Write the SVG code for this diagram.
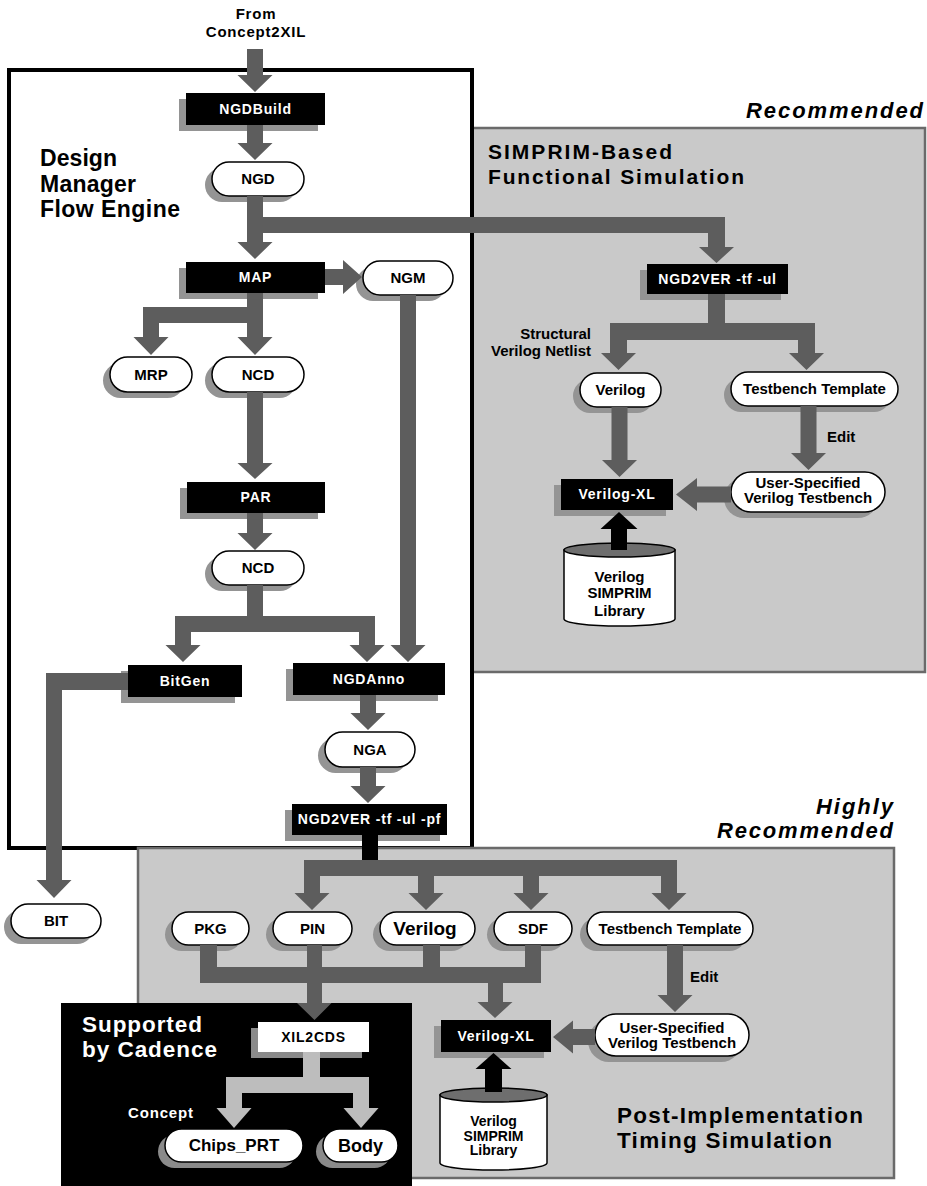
<svg xmlns="http://www.w3.org/2000/svg" width="927" height="1186" viewBox="0 0 927 1186">
  <style>
    .panel { fill: #c9c9c9; stroke: #6a6a6a; stroke-width: 2.5; }
    .frame { fill: #fff; stroke: #000; stroke-width: 4; }
    .shadow { fill: #949494; }
    .box { fill: #000; }
    .wbox { fill: #fff; }
    .pill { fill: #fff; stroke: #000; stroke-width: 1.5; }
    .arrow { fill: #5d5d5d; }
    .arrow-lt { fill: #bdbdbd; }
    .arrow-blk { fill: #000; }
    text { font-family: "Liberation Sans", Arial, Helvetica, sans-serif; font-weight: bold; }
    .bl { fill: #fff; font-size: 14px; letter-spacing: 0.8px; text-anchor: middle; }
    .pl { fill: #000; font-size: 15px; text-anchor: middle; }
    .title { font-size: 22.5px; }
    .rec { font-size: 22px; font-style: italic; text-anchor: end; }
    .note { fill: #000; font-size: 15px; }
    .cyl-body { fill: #fff; stroke: #000; stroke-width: 1.5; }
    .cyl-top { fill: #6e6e6e; stroke: #000; stroke-width: 1.5; }
  </style>

  <!-- background regions -->
  <g id="regions">
    <rect class="panel" x="472" y="128" width="453" height="544"/>
    <rect class="frame" x="9" y="70" width="463" height="778"/>
    <rect class="panel" x="138" y="848" width="756" height="330"/>
    <rect x="61" y="1003" width="351" height="183" fill="#000"/>
  </g>

  <!-- Design Manager flow -->
  <g id="ngdbuild">
    <rect class="shadow" x="179" y="99" width="139" height="32"/>
    <rect class="box" x="186" y="93" width="139" height="32"/>
    <text class="bl" x="255.5" y="114">NGDBuild</text>
  </g>
  <g id="ngd">
    <rect class="shadow" x="205" y="168" width="92" height="34" rx="17"/>
    <rect class="pill" x="212" y="162" width="92" height="34" rx="17"/>
    <text class="pl" x="258" y="184">NGD</text>
  </g>
  <g id="map">
    <rect class="shadow" x="179" y="268" width="139" height="31"/>
    <rect class="box" x="186" y="262" width="139" height="31"/>
    <text class="bl" x="255.5" y="282">MAP</text>
  </g>
  <g id="ngm">
    <rect class="shadow" x="356" y="267" width="90" height="34" rx="17"/>
    <rect class="pill" x="363" y="261" width="90" height="34" rx="17"/>
    <text class="pl" x="408" y="283">NGM</text>
  </g>
  <g id="mrp">
    <rect class="shadow" x="103" y="363" width="82" height="35" rx="17.5"/>
    <rect class="pill" x="110" y="357" width="82" height="35" rx="17.5"/>
    <text class="pl" x="151" y="380">MRP</text>
  </g>
  <g id="ncd-map">
    <rect class="shadow" x="205" y="363" width="92" height="35" rx="17.5"/>
    <rect class="pill" x="212" y="357" width="92" height="35" rx="17.5"/>
    <text class="pl" x="258" y="380">NCD</text>
  </g>
  <g id="par">
    <rect class="shadow" x="180" y="488" width="138" height="31"/>
    <rect class="box" x="187" y="482" width="138" height="31"/>
    <text class="bl" x="256" y="502">PAR</text>
  </g>
  <g id="ncd-par">
    <rect class="shadow" x="205" y="557" width="92" height="34" rx="17"/>
    <rect class="pill" x="212" y="551" width="92" height="34" rx="17"/>
    <text class="pl" x="258" y="573">NCD</text>
  </g>
  <g id="bitgen">
    <rect class="shadow" x="121" y="671" width="114" height="32"/>
    <rect class="box" x="128" y="665" width="114" height="32"/>
    <text class="bl" x="185" y="686">BitGen</text>
  </g>
  <g id="ngdanno">
    <rect class="shadow" x="286" y="669" width="152" height="32"/>
    <rect class="box" x="293" y="663" width="152" height="32"/>
    <text class="bl" x="369" y="684">NGDAnno</text>
  </g>
  <g id="nga">
    <rect class="shadow" x="318" y="738" width="90" height="35" rx="17.5"/>
    <rect class="pill" x="325" y="732" width="90" height="35" rx="17.5"/>
    <text class="pl" x="370" y="755">NGA</text>
  </g>
  <g id="ngd2ver-pf">
    <rect class="shadow" x="285" y="810" width="155" height="31"/>
    <rect class="box" x="292" y="804" width="155" height="31"/>
    <text class="bl" x="369.5" y="824">NGD2VER -tf -ul -pf</text>
  </g>
  <g id="bit">
    <rect class="shadow" x="4" y="910" width="90" height="34" rx="17"/>
    <rect class="pill" x="11" y="904" width="90" height="34" rx="17"/>
    <text class="pl" x="56" y="926">BIT</text>
  </g>

  <!-- functional simulation -->
  <g id="ngd2ver-ul">
    <rect class="shadow" x="640" y="270" width="141" height="30"/>
    <rect class="box" x="647" y="264" width="141" height="30"/>
    <text class="bl" x="717.5" y="284">NGD2VER -tf -ul</text>
  </g>
  <g id="verilog-f">
    <rect class="shadow" x="573" y="379" width="81" height="34" rx="17"/>
    <rect class="pill" x="580" y="373" width="81" height="34" rx="17"/>
    <text class="pl" x="620.5" y="395">Verilog</text>
  </g>
  <g id="testbench-f">
    <rect class="shadow" x="724" y="378" width="167" height="34" rx="17"/>
    <rect class="pill" x="731" y="372" width="167" height="34" rx="17"/>
    <text class="pl" x="814.5" y="394">Testbench Template</text>
  </g>
  <g id="user-tb-f">
    <rect class="shadow" x="724" y="478" width="154" height="40" rx="20"/>
    <rect class="pill" x="731" y="472" width="154" height="40" rx="20"/>
    <text class="pl" x="808" y="488">User-Specified</text>
    <text class="pl" x="808" y="503">Verilog Testbench</text>
  </g>
  <g id="verilogxl-f">
    <rect class="shadow" x="554" y="485" width="112" height="31"/>
    <rect class="box" x="561" y="479" width="112" height="31"/>
    <text class="bl" x="617" y="499">Verilog-XL</text>
  </g>
  <g id="simprim-lib-f">
    <path class="cyl-body" d="M564,550 V619 A55.5,7 0 0 0 675,619 V550 Z"/>
    <ellipse class="cyl-top" cx="619.5" cy="550" rx="55.5" ry="7"/>
    <text class="pl" x="619.5" y="582">Verilog</text>
    <text class="pl" x="619.5" y="598">SIMPRIM</text>
    <text class="pl" x="619.5" y="616">Library</text>
  </g>

  <!-- timing simulation -->
  <g id="pkg">
    <rect class="shadow" x="165" y="918" width="77" height="33" rx="16.5"/>
    <rect class="pill" x="172" y="912" width="77" height="33" rx="16.5"/>
    <text class="pl" x="210.5" y="934">PKG</text>
  </g>
  <g id="pin">
    <rect class="shadow" x="266" y="918" width="79" height="33" rx="16.5"/>
    <rect class="pill" x="273" y="912" width="79" height="33" rx="16.5"/>
    <text class="pl" x="312.5" y="934">PIN</text>
  </g>
  <g id="verilog-t">
    <rect class="shadow" x="373" y="918" width="95" height="33" rx="16.5"/>
    <rect class="pill" x="380" y="912" width="95" height="33" rx="16.5"/>
    <text class="pl" x="425" y="935" style="font-size:19px">Verilog</text>
  </g>
  <g id="sdf">
    <rect class="shadow" x="487" y="918" width="78" height="33" rx="16.5"/>
    <rect class="pill" x="494" y="912" width="78" height="33" rx="16.5"/>
    <text class="pl" x="533" y="934">SDF</text>
  </g>
  <g id="testbench-t">
    <rect class="shadow" x="580" y="918" width="166" height="33" rx="16.5"/>
    <rect class="pill" x="587" y="912" width="166" height="33" rx="16.5"/>
    <text class="pl" x="670" y="934">Testbench Template</text>
  </g>
  <g id="user-tb-t">
    <rect class="shadow" x="588" y="1020" width="154" height="42" rx="21"/>
    <rect class="pill" x="595" y="1014" width="154" height="42" rx="21"/>
    <text class="pl" x="672" y="1033">User-Specified</text>
    <text class="pl" x="672" y="1048">Verilog Testbench</text>
  </g>
  <g id="verilogxl-t">
    <rect class="shadow" x="434" y="1026" width="110" height="32"/>
    <rect class="box" x="441" y="1020" width="110" height="32"/>
    <text class="bl" x="496" y="1041">Verilog-XL</text>
  </g>
  <g id="simprim-lib-t">
    <path class="cyl-body" d="M440,1095 V1163 A53.5,7 0 0 0 547,1163 V1095 Z"/>
    <ellipse class="cyl-top" cx="493.5" cy="1095" rx="53.5" ry="7"/>
    <text class="pl" x="493.5" y="1126" style="font-size:14px">Verilog</text>
    <text class="pl" x="493.5" y="1141" style="font-size:14px">SIMPRIM</text>
    <text class="pl" x="493.5" y="1155" style="font-size:14px">Library</text>
  </g>

  <!-- Cadence back-annotation -->
  <g id="xil2cds">
    <rect fill="#8a8a8a" x="251" y="1028" width="111" height="30"/>
    <rect class="wbox" x="258" y="1022" width="111" height="30"/>
    <text class="pl" x="313.5" y="1042" style="font-size:14px;letter-spacing:0.8px">XIL2CDS</text>
  </g>
  <g id="chips-prt">
    <rect fill="#8a8a8a" x="158" y="1135" width="138" height="33" rx="16.5"/>
    <rect class="pill" x="165" y="1129" width="138" height="33" rx="16.5"/>
    <text class="pl" x="234" y="1151" style="font-size:17px">Chips_PRT</text>
  </g>
  <g id="body">
    <rect fill="#8a8a8a" x="316" y="1135" width="75" height="33" rx="16.5"/>
    <rect class="pill" x="323" y="1129" width="75" height="33" rx="16.5"/>
    <text class="pl" x="360.5" y="1152" style="font-size:18px">Body</text>
  </g>

  <!-- connectors -->
  <g id="connectors">
    <path class="arrow" d="M247,49 H263 V75 H272.5 L255,92 L237.5,75 H247 Z"/>
    <path class="arrow" d="M247,125 H263 V143 H272.5 L255,160 L237.5,143 H247 Z"/>
    <path class="arrow" d="M247,196 H263 V217 H725 V247 H734 L716.5,263 L699,247 H708 V233 H263 V242 H272.5 L255,259 L237.5,242 H247 Z"/>
    <path class="arrow" d="M325,269 H343 V260 L362,277 L343,294 V285 H325 Z"/>
    <path class="arrow" d="M247,293 H263 V337 H272.5 L255,355 L237.5,337 H247 V323 H159 V337 H168.5 L151,355 L133.5,337 H143 V307 H247 Z"/>
    <path class="arrow" d="M400,295 H416 V645 H425.5 L408,662 L390.5,645 H400 Z"/>
    <path class="arrow" d="M247,392 H263 V463 H272.5 L255,479 L237.5,463 H247 Z"/>
    <path class="arrow" d="M247,513 H263 V533 H272.5 L255,550 L237.5,533 H247 Z"/>
    <path class="arrow" d="M247,585 H263 V616 H375 V645 H384.5 L367,662 L349.5,645 H359 V632 H191 V645 H200.5 L183,662 L165.5,645 H175 V616 H247 Z"/>
    <path class="arrow" d="M128,673 V690 H62 V880 H71.5 L54,898 L36.5,880 H46 V673 Z"/>
    <path class="arrow" d="M360,695 H376 V713 H385.5 L368,730 L350.5,713 H360 Z"/>
    <path class="arrow" d="M360,767 H376 V786 H385.5 L368,803 L350.5,786 H360 Z"/>
    <rect class="arrow-blk" x="362" y="835" width="16" height="25"/>
    <path class="arrow" d="M304,860 H677 V893 H686.5 L669,910 L651.5,893 H661 V876 H539 V893 H548.5 L531,910 L513.5,893 H523 V876 H434 V893 H443.5 L426,910 L408.5,893 H418 V876 H320 V893 H329.5 L312,910 L294.5,893 H304 Z"/>
    <path class="arrow" d="M200,945 H217 V967 H307 V945 H322 V967 H423 V945 H440 V967 H525 V945 H541 V983 H503 V1002 H512.5 L495,1018 L477.5,1002 H488 V983 H322 V1003 H331.5 L314.5,1020 L297,1003 H307 V983 H200 Z"/>
    <path class="arrow" d="M667,945 H683 V995 H692.5 L675,1012 L657.5,995 H667 Z"/>
    <path class="arrow" d="M595,1029 V1045 H573 V1053.5 L553,1037 L573,1020.5 V1029 Z"/>
    <path class="arrow-blk" d="M485,1092 V1069 H475.5 L493.5,1053 L511.5,1069 H502 V1092 Z"/>
    <path class="arrow-lt" d="M303,1052 H320 V1077 H369 V1108 H378.5 L361,1128 L343.5,1108 H353 V1093 H242 V1108 H251.5 L234,1128 L216.5,1108 H226 V1077 H303 Z"/>
    <path class="arrow" d="M708,294 H725 V323 H815 V353 H824 L806.5,370 L789,353 H798 V340 H627 V353 H636 L618.5,370 L601,353 H610 V323 H708 Z"/>
    <path class="arrow" d="M611.5,407 H627.5 V460 H637 L619.5,477 L602,460 H611.5 Z"/>
    <path class="arrow" d="M800.5,406 H816.5 V453 H826 L808.5,470 L791,453 H800.5 Z"/>
    <path class="arrow" d="M731,486.5 V502.5 H697 V511 L676,494.5 L697,478 V486.5 Z"/>
    <path class="arrow-blk" d="M611,550 V529 H600.5 L619,512 L637.5,529 H627 V550 Z"/>
  </g>

  <!-- captions -->
  <g id="captions">
    <text class="note" x="256" y="19" text-anchor="middle" style="letter-spacing:0.8px">From</text>
    <text class="note" x="256" y="37" text-anchor="middle" style="letter-spacing:0.8px">Concept2XIL</text>
    <text x="40" y="166" font-size="23" textLength="77" lengthAdjust="spacing">Design</text>
    <text x="40" y="192" font-size="23" textLength="96" lengthAdjust="spacing">Manager</text>
    <text x="40" y="217" font-size="23" textLength="140" lengthAdjust="spacing">Flow Engine</text>
    <text class="rec" x="923" y="118" textLength="177" lengthAdjust="spacing">Recommended</text>
    <text x="488" y="159" font-size="21" textLength="184" lengthAdjust="spacing">SIMPRIM-Based</text>
    <text x="488" y="184" font-size="21" textLength="256" lengthAdjust="spacing">Functional Simulation</text>
    <text class="note" x="591" y="339" text-anchor="end">Structural</text>
    <text class="note" x="591" y="356" text-anchor="end">Verilog Netlist</text>
    <text class="note" x="827" y="442">Edit</text>
    <text class="rec" x="893" y="814" textLength="77" lengthAdjust="spacing">Highly</text>
    <text class="rec" x="893" y="838" textLength="176" lengthAdjust="spacing">Recommended</text>
    <text class="note" x="690" y="982">Edit</text>
    <text class="title" x="617" y="1123" textLength="246" lengthAdjust="spacing">Post-Implementation</text>
    <text class="title" x="617" y="1148" textLength="215" lengthAdjust="spacing">Timing Simulation</text>
    <text class="title" x="82" y="1032" fill="#fff" textLength="120" lengthAdjust="spacing">Supported</text>
    <text class="title" x="82" y="1057" fill="#fff" textLength="135" lengthAdjust="spacing">by Cadence</text>
    <text x="128" y="1118" fill="#fff" font-size="15" textLength="65" lengthAdjust="spacing">Concept</text>
  </g>
</svg>
